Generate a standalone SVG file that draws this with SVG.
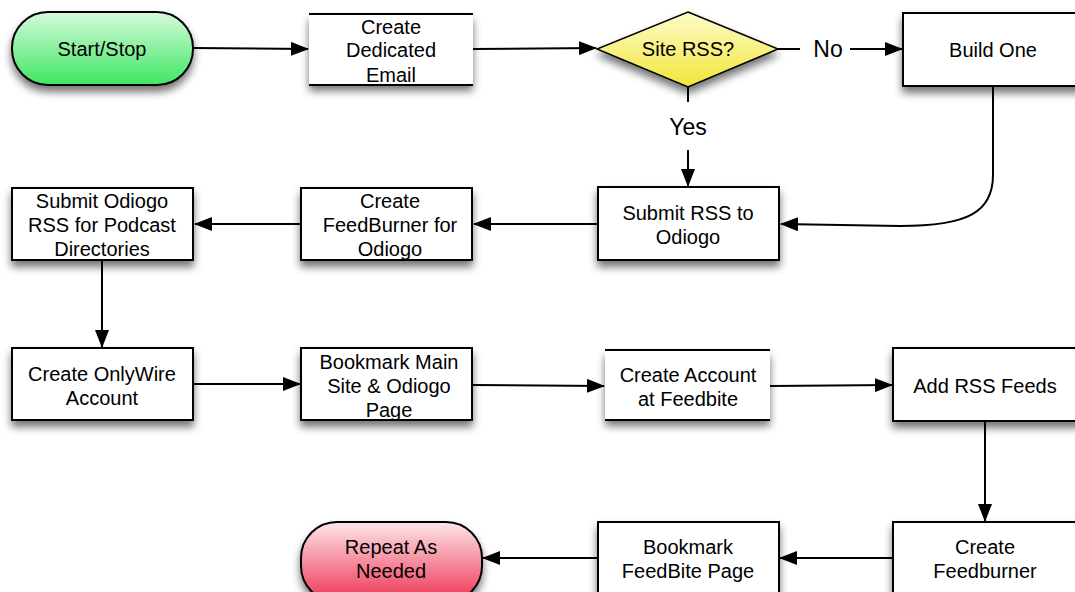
<svg xmlns="http://www.w3.org/2000/svg" width="1075" height="592" viewBox="0 0 1075 592">
<style>
.box{fill:#fff;stroke:#000;stroke-width:2}
.edge{fill:none;stroke:#000;stroke-width:2}
.t{font-family:"Liberation Sans",Arial,sans-serif;font-size:20px;fill:#000;text-anchor:middle}
.lbl{font-family:"Liberation Sans",Arial,sans-serif;font-size:23px;fill:#000;text-anchor:middle}
</style>
<defs>
<filter id="sh" x="-20%" y="-20%" width="140%" height="160%">
<feGaussianBlur in="SourceAlpha" stdDeviation="4"/>
<feOffset dx="0" dy="6" result="b"/>
<feComponentTransfer><feFuncA type="linear" slope="0.55"/></feComponentTransfer>
<feMerge><feMergeNode/><feMergeNode in="SourceGraphic"/></feMerge>
</filter>
<linearGradient id="gGreen" x1="0" y1="0" x2="0" y2="1">
<stop offset="0" stop-color="#d6fadb"/><stop offset="1" stop-color="#3fe663"/>
</linearGradient>
<linearGradient id="gRed" x1="0" y1="0" x2="0" y2="1">
<stop offset="0" stop-color="#fde6ea"/><stop offset="1" stop-color="#ee3452"/>
</linearGradient>
<linearGradient id="gYel" x1="0" y1="0" x2="0" y2="1">
<stop offset="0" stop-color="#fdfccc"/><stop offset="1" stop-color="#f2e538"/>
</linearGradient>
<marker id="ah" markerUnits="userSpaceOnUse" markerWidth="18" markerHeight="14" refX="17" refY="7" orient="auto">
<path d="M0,0 L18,7 L0,14 Z" fill="#000"/>
</marker>
</defs>

<g id="connectors">
<path class="edge" d="M193,48 L308,49" marker-end="url(#ah)"/>
<path class="edge" d="M473,49 L596,48" marker-end="url(#ah)"/>
<path class="edge" d="M778,49 L800,49"/>
<path class="edge" d="M850,49 L902,49" marker-end="url(#ah)"/>
<path class="edge" d="M688,87 L688,102"/>
<path class="edge" d="M688,150 L688,186" marker-end="url(#ah)"/>
<path class="edge" d="M993,86 L993,175 C993,212 968,226 900,226 L781,224" marker-end="url(#ah)"/>
<path class="edge" d="M598,224 L474,224" marker-end="url(#ah)"/>
<path class="edge" d="M301,224 L195,224" marker-end="url(#ah)"/>
<path class="edge" d="M102,260 L102,347" marker-end="url(#ah)"/>
<path class="edge" d="M193,384 L300,384" marker-end="url(#ah)"/>
<path class="edge" d="M472,385 L604,386" marker-end="url(#ah)"/>
<path class="edge" d="M770,386 L892,385" marker-end="url(#ah)"/>
<path class="edge" d="M985,421 L985,521" marker-end="url(#ah)"/>
<path class="edge" d="M893,558 L780,558" marker-end="url(#ah)"/>
<path class="edge" d="M598,558 L483,558" marker-end="url(#ah)"/>
<text class="lbl" x="828" y="57">No</text>
<text class="lbl" x="688" y="135">Yes</text>
</g>

<g id="start">
<rect x="12" y="12" width="181" height="73" rx="36" ry="36" fill="url(#gGreen)" stroke="#000" stroke-width="2" filter="url(#sh)"/>
<text class="t" x="102" y="56">Start/Stop</text>
</g>

<g id="email">
<rect x="309" y="14" width="164" height="71" fill="#fff" filter="url(#sh)"/>
<path d="M309,14 H473 M309,85 H473" stroke="#000" stroke-width="2"/>
<text class="t" x="391" y="34">Create</text>
<text class="t" x="391" y="57">Dedicated</text>
<text class="t" x="391" y="82">Email</text>
</g>

<g id="siteRss">
<path d="M688,12 L778,49 L688,87 L597,49 Z" fill="url(#gYel)" stroke="#000" stroke-width="1.5" filter="url(#sh)"/>
<text class="t" x="688" y="56">Site RSS?</text>
</g>

<g id="buildOne">
<rect x="903" y="13" width="180" height="73" class="box" filter="url(#sh)"/>
<text class="t" x="993" y="57">Build One</text>
</g>

<g id="submitRss">
<rect x="598" y="187" width="181" height="73" class="box" filter="url(#sh)"/>
<text class="t" x="688" y="220">Submit RSS to</text>
<text class="t" x="688" y="244">Odiogo</text>
</g>

<g id="feedburnerOdiogo">
<rect x="301" y="188" width="171" height="72" class="box" filter="url(#sh)"/>
<text class="t" x="390" y="208">Create</text>
<text class="t" x="390" y="232">FeedBurner for</text>
<text class="t" x="390" y="256">Odiogo</text>
</g>

<g id="submitOdiogo">
<rect x="12" y="188" width="181" height="72" class="box" filter="url(#sh)"/>
<text class="t" x="102" y="208">Submit Odiogo</text>
<text class="t" x="102" y="232">RSS for Podcast</text>
<text class="t" x="102" y="256">Directories</text>
</g>

<g id="onlyWire">
<rect x="12" y="348" width="181" height="72" class="box" filter="url(#sh)"/>
<text class="t" x="102" y="381">Create OnlyWire</text>
<text class="t" x="102" y="405">Account</text>
</g>

<g id="bookmarkMain">
<rect x="301" y="348" width="171" height="72" class="box" filter="url(#sh)"/>
<text class="t" x="389" y="369">Bookmark Main</text>
<text class="t" x="389" y="393">Site &amp; Odiogo</text>
<text class="t" x="389" y="417">Page</text>
</g>

<g id="feedbiteAccount">
<rect x="605" y="350" width="165" height="70" fill="#fff" filter="url(#sh)"/>
<path d="M605,350 H770 M605,420 H770" stroke="#000" stroke-width="2"/>
<text class="t" x="688" y="382">Create Account</text>
<text class="t" x="688" y="406">at Feedbite</text>
</g>

<g id="addRss">
<rect x="893" y="348" width="190" height="73" class="box" filter="url(#sh)"/>
<text class="t" x="985" y="393">Add RSS Feeds</text>
</g>

<g id="createFeedburner">
<rect x="893" y="522" width="190" height="80" class="box" filter="url(#sh)"/>
<text class="t" x="985" y="554">Create</text>
<text class="t" x="985" y="578">Feedburner</text>
</g>

<g id="bookmarkFeedbite">
<rect x="598" y="522" width="181" height="80" class="box" filter="url(#sh)"/>
<text class="t" x="688" y="554">Bookmark</text>
<text class="t" x="688" y="578">FeedBite Page</text>
</g>

<g id="repeat">
<rect x="301" y="522" width="181" height="80" rx="36" ry="36" fill="url(#gRed)" stroke="#000" stroke-width="2" filter="url(#sh)"/>
<text class="t" x="391" y="554">Repeat As</text>
<text class="t" x="391" y="578">Needed</text>
</g>
</svg>
